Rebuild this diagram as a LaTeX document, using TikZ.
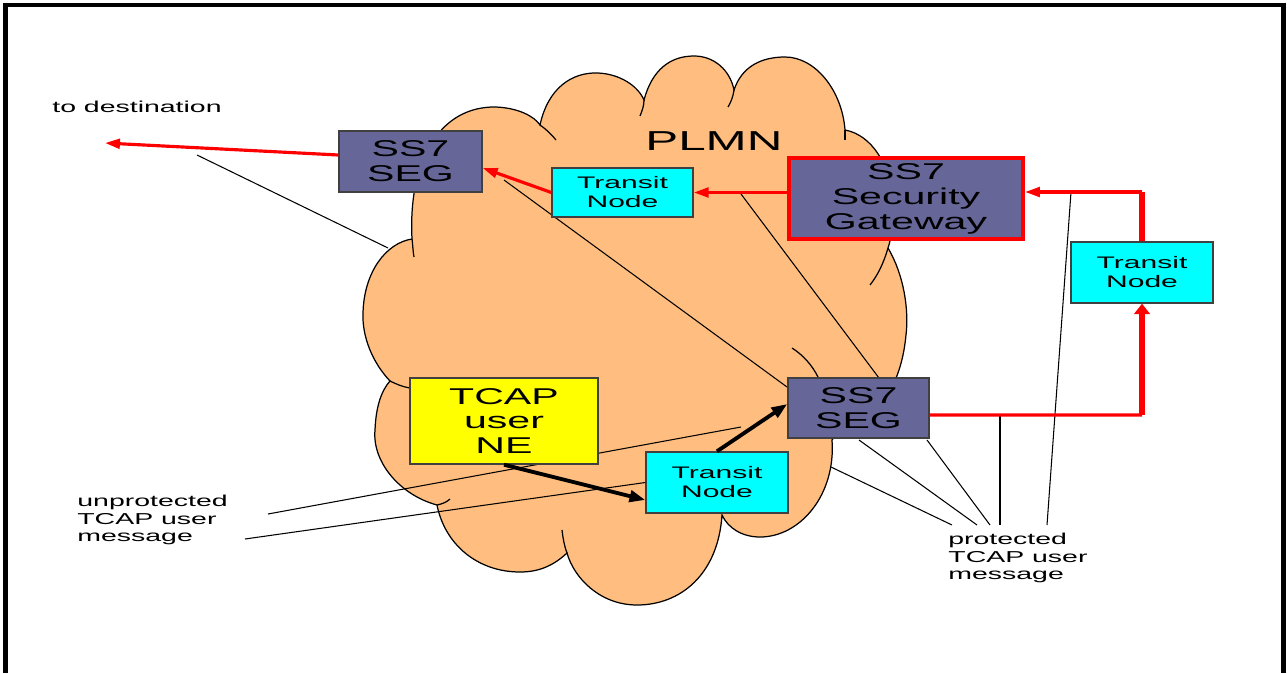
\documentclass[tikz,border=0pt]{standalone}
\usepackage{fontspec}
\setmainfont{Liberation Sans}[FakeStretch=1.8] % 原图横向拉伸,字体同样加宽
\usetikzlibrary{arrows.meta, positioning, calc}
\definecolor{cloudc}{RGB}{255,190,128}   % 云朵橙色
\definecolor{segc}{RGB}{102,102,153}     % SEG 紫灰色
\definecolor{tnc}{RGB}{0,255,255}        % 转接节点青色
\definecolor{nec}{RGB}{255,255,0}        % 网元黄色
\definecolor{rc}{RGB}{255,0,0}           % 红色路径

\begin{document}
\begin{tikzpicture}[x=0.02cm, y=-0.02cm, % 以像素为单位,y 向下
  segbox/.style={draw=black!75, fill=segc, line width=0.8pt, align=center, inner sep=0pt,
                 font=\fontsize{13}{14.2}\selectfont},
  tnbox/.style={draw=black!75, fill=tnc, line width=0.8pt, align=center, inner sep=0pt,
                font=\fontsize{9.5}{10.8}\selectfont},
  redarr/.style={rc, line width=1.8pt, -{Triangle[length=8.5pt,width=5.5pt]}},
  blkarr/.style={black, line width=2.2pt, -{Triangle[length=9pt,width=6.5pt]}},
  callout/.style={black, line width=0.6pt},
  hook/.style={black, line width=0.7pt}]
\useasboundingbox (0,0) rectangle (1287,673); % 固定画布大小
% 外框(底边不显示)
\draw[line width=2.5pt] (5.5,673) -- (5.5,5) -- (1283.5,5) -- (1283.5,673);

% 云朵 PLMN
\filldraw[fill=cloudc, draw=black, line width=0.7pt]
  (412,239) .. controls (408,160) and (440,106) .. (496,107)
  .. controls (518,108) and (534,116) .. (540,125)
  .. controls (548,88) and (572,72) .. (598,73)
  .. controls (620,74) and (638,86) .. (644,100)
  .. controls (652,70) and (670,56) .. (694,56)
  .. controls (714,56) and (730,70) .. (734,90)
  .. controls (742,66) and (762,57) .. (785,57)
  .. controls (815,57) and (842,90) .. (845,130)
  .. controls (872,135) and (890,165) .. (893,200)
  .. controls (894,220) and (892,236) .. (888,248)
  .. controls (904,275) and (909,310) .. (906,335)
  .. controls (904,355) and (900,370) .. (893,385)
  .. controls (880,410) and (845,420) .. (832,440)
  .. controls (836,495) and (800,537) .. (760,537)
  .. controls (742,537) and (728,528) .. (722,515)
  .. controls (718,575) and (680,605) .. (637,605)
  .. controls (600,605) and (574,578) .. (567,553)
  .. controls (552,567) and (537,572) .. (520,572)
  .. controls (478,572) and (445,545) .. (437,505)
  .. controls (400,495) and (372,462) .. (375,430)
  .. controls (376,405) and (382,390) .. (390,381)
  .. controls (372,362) and (362,336) .. (363,313)
  .. controls (364,272) and (386,243) .. cycle;
% 云朵内部的小弧线
\draw[hook] (412,239) .. controls (413,247) and (413,252) .. (414,257);
\draw[hook] (540,125) .. controls (547,130) and (552,135) .. (556,140);
\draw[hook] (644,100) .. controls (644,106) and (642,111) .. (640,116);
\draw[hook] (734,90) .. controls (733,97) and (731,102) .. (728,107);
\draw[hook] (845,130) -- (845,140);
\draw[hook] (888,248) .. controls (884,262) and (878,275) .. (870,285);
\draw[hook] (792,348) .. controls (803,355) and (812,365) .. (818,377);
\draw[hook] (437,505) .. controls (442,504) and (447,502) .. (450,499);
\draw[hook] (567,553) .. controls (564,545) and (563,538) .. (562,530);
\draw[hook] (390,381) .. controls (396,384) and (403,387) .. (410,388);

\node[font=\fontsize{15.6}{16}\selectfont, anchor=base west, inner sep=0pt] (plmn) at (645,150) {PLMN};

% 说明线(被方框遮住的部分先画)
\coordinate (d1) at (197,155);  \coordinate (d2) at (388,248);
\coordinate (s1) at (504,180);  \coordinate (s2) at (787,387);
\coordinate (g1) at (741,194);  \coordinate (g2) at (879,378);
\coordinate (u1) at (268,514);  \coordinate (u2) at (741,427);
\coordinate (u3) at (245,539);
\draw[callout] (d1) -- (d2);
\draw[callout] (s1) -- (s2);
\draw[callout] (g1) -- (g2);
\draw[callout] (u1) -- (u2);

% 各网元方框
\node[segbox, minimum width=2.86cm, minimum height=1.22cm] (seg1) at (410.5,161.5) {SS7\\SEG};
\node[tnbox, minimum width=2.82cm, minimum height=0.98cm] (tn1) at (622.5,192.5) {Transit\\Node};
\node[segbox, draw=rc, line width=2.3pt, minimum width=4.68cm, minimum height=1.62cm] (gw) at (906,198.5) {SS7\\Security\\Gateway};
\node[tnbox, minimum width=2.84cm, minimum height=1.22cm] (tn2) at (1142,272.5) {Transit\\Node};
\node[segbox, minimum width=2.82cm, minimum height=1.20cm] (seg2) at (858.5,408) {SS7\\SEG};
\node[segbox, fill=nec, minimum width=3.76cm, minimum height=1.72cm] (ne) at (504,421) {TCAP\\user\\NE};
\node[tnbox, minimum width=2.84cm, minimum height=1.22cm] (tn3) at (717,482.5) {Transit\\Node};

% 文字标注
\node[font=\fontsize{9}{10}\selectfont, anchor=base west, inner sep=0pt] (dest) at (52,112) {to destination};
\node[font=\fontsize{9}{9.9}\selectfont, align=left, anchor=north west, inner sep=0pt] (unprot) at (77,495) {unprotected\\TCAP user\\message};
\node[font=\fontsize{9}{9.9}\selectfont, align=left, anchor=north west, inner sep=0pt] (prot) at (948,533) {protected\\TCAP user\\message};

\draw[callout] (u3) -- (tn3.west);
% 指向 protected 标注的说明线
\coordinate (p0) at (831,467);  \coordinate (q0) at (952,525);
\coordinate (p1) at (859,440);  \coordinate (q1) at (977,525);
\coordinate (p2) at (927,440);  \coordinate (q2) at (990,525);
\coordinate (p3) at (1000,415); \coordinate (q3) at (1000,525);
\coordinate (p4) at (1071,192); \coordinate (q4) at (1047,525);
\foreach \i in {0,...,4} {\draw[callout] (p\i) -- (q\i);}

% 红色受保护消息路径
\coordinate (to) at (105,143);
\draw[redarr] ([yshift=0.13cm]seg1.west) -- (to);
\draw[redarr] (tn1.west) -- ([yshift=-0.13cm]seg1.east);
\draw[redarr] (gw.west |- tn1.east) -- (tn1.east);
\coordinate (c1) at (tn2.north |- p4);
\draw[rc, line width=3pt] (tn2.north) -- (c1);
\draw[redarr] (c1) -- (gw.east |- c1);
\coordinate (c2) at (tn2.south |- p3);
\draw[rc, line width=1.8pt] ([yshift=-0.14cm]seg2.east) -- (c2);
\draw[rc, line width=3pt, -{Triangle[length=6pt,width=9pt]}] (c2) -- (tn2.south);

% 黑色未保护消息路径
\draw[blkarr] (ne.south) -- ([yshift=-0.35cm]tn3.west);
\draw[blkarr] (tn3.north) -- ([yshift=0.08cm]seg2.west);
\end{tikzpicture}
\end{document}
